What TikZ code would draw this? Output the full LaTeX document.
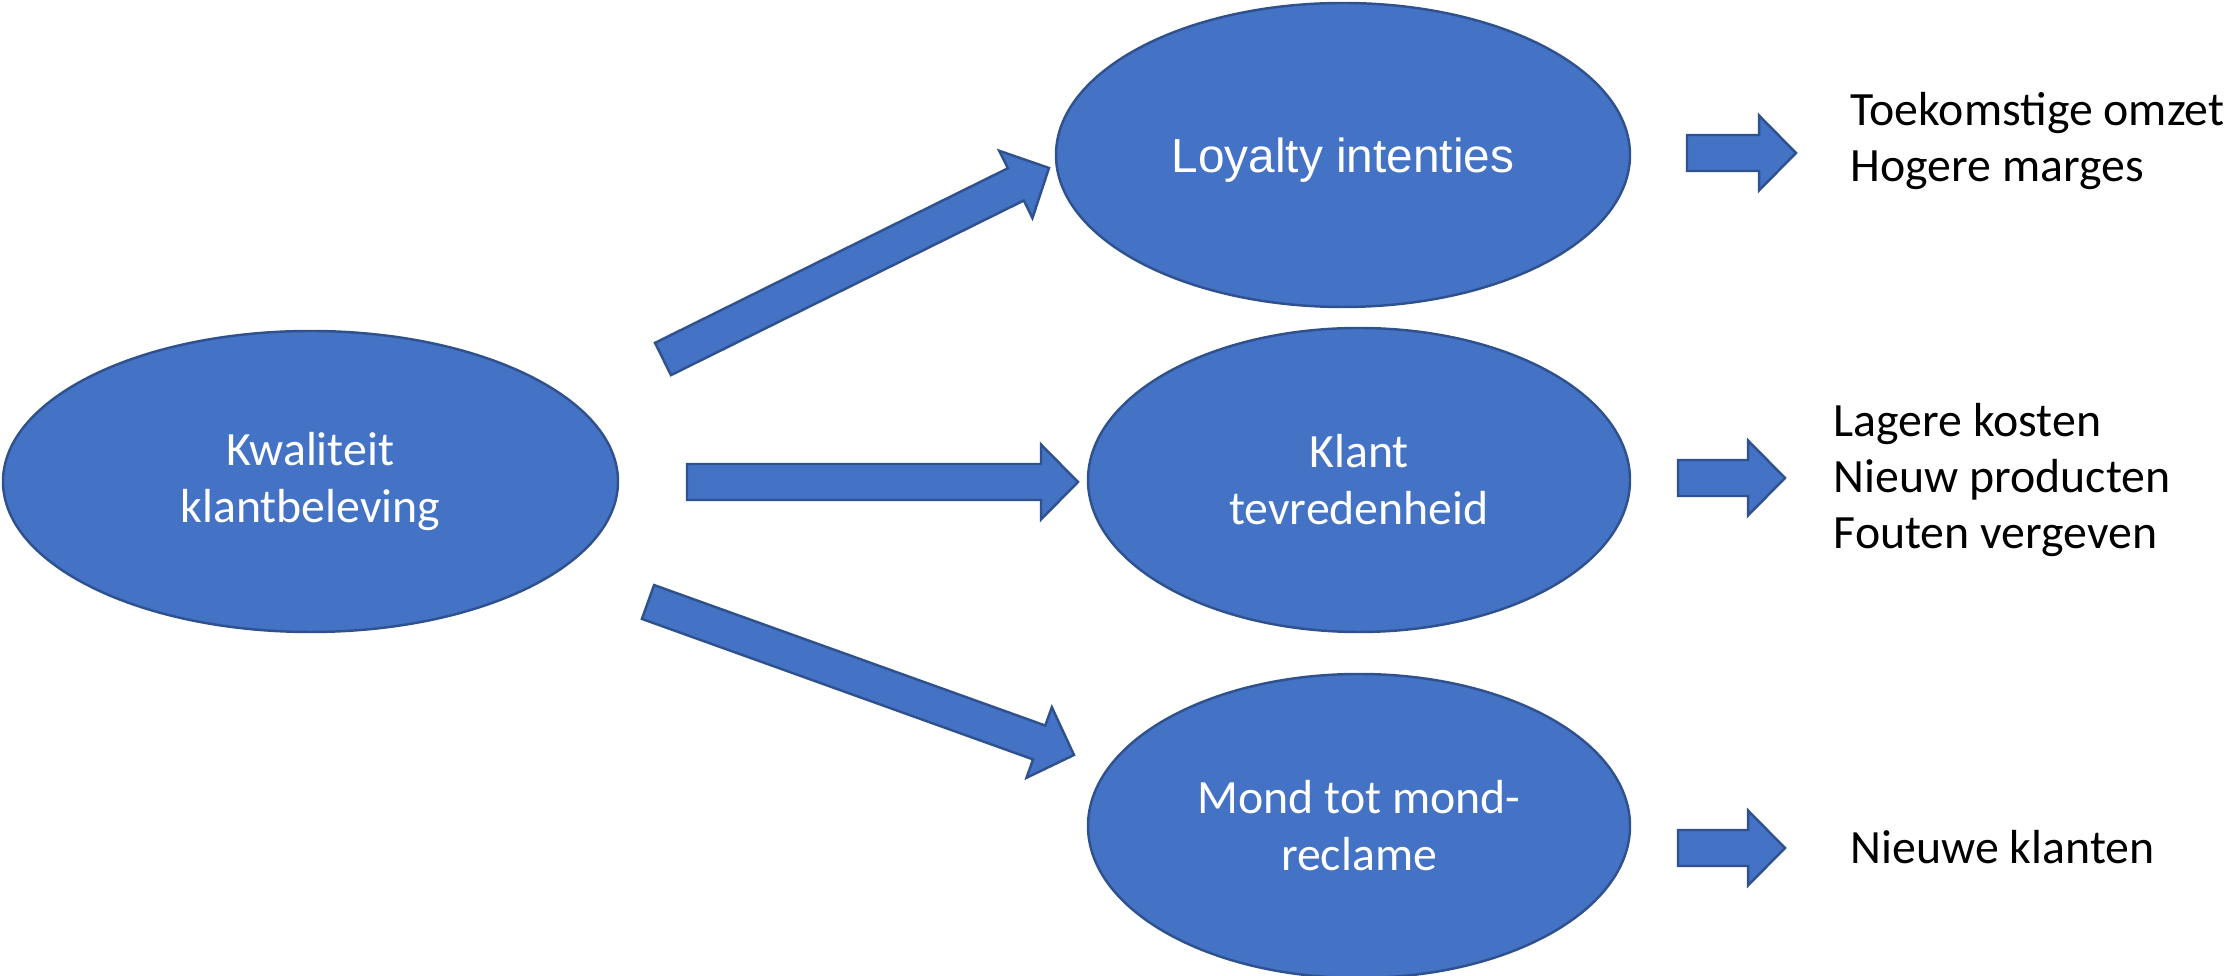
\documentclass[tikz,border=0pt]{standalone}
\usepackage{fontspec}
\setmainfont{Carlito}
\newfontfamily\arialfont{Liberation Sans}
\usetikzlibrary{shapes.geometric,calc}

\definecolor{vulblauw}{HTML}{4472C4}
\definecolor{randblauw}{HTML}{2F528F}

\tikzset{
    bol/.style={ellipse, fill=vulblauw, draw=randblauw, line width=0.7pt,
        text=white, align=center, inner sep=0pt,
        font=\fontsize{13.6}{16.2}\selectfont},
    gevolg/.style={anchor=west, align=left, inner sep=0pt,
        font=\fontsize{13.6}{16}\selectfont},
    pijl/.style={fill=vulblauw, draw=randblauw, line width=0.7pt}
}

% Block arrow from #1 (tail) to #2 (tip)
\newcommand{\blokpijl}[2]{
    \coordinate (#2-b) at ($(#2)!0.37cm!(#1)$);
    \draw[pijl] ($(#1)!0.18cm!90:(#2)$) -- ($(#2-b)!0.18cm!-90:(#1)$)
        -- ($(#2-b)!0.375cm!-90:(#1)$) -- (#2)
        -- ($(#2-b)!0.375cm!90:(#1)$) -- ($(#2-b)!0.18cm!90:(#1)$)
        -- ($(#1)!0.18cm!-90:(#2)$) -- cycle;
}

\begin{document}
\begin{tikzpicture}
    \useasboundingbox (0,0) rectangle (22.28,9.76);

    % Draw ellipses
    \node[bol, minimum width=6.15cm, minimum height=3.01cm] (kwaliteit) at (3.105,4.945) {Kwaliteit\\klantbeleving};
    \node[bol, minimum width=5.74cm, minimum height=3.04cm, text depth=0pt,
        font=\arialfont\fontsize{13.6}{16}\selectfont] (loyalty) at (13.43,8.21) {Loyalty intenties};
    \node[bol, minimum width=5.42cm, minimum height=3.04cm] (tevreden) at (13.59,4.96) {Klant\\tevredenheid};
    \node[bol, minimum width=5.42cm, minimum height=3.04cm] (mond) at (13.59,1.50) {Mond tot mond-\\reclame};

    % Draw results
    \node[gevolg] (omzet) at (18.50,8.35) {Toekomstige omzet\\Hogere marges};
    \node[gevolg] (kosten) at (18.33,4.96) {Lagere kosten\\Nieuw producten\\Fouten vergeven};
    \node[gevolg] (klanten) at (18.50,1.29) {Nieuwe klanten};

    % Arrow ends
    \foreach \naam/\x/\y in {s1/6.63/6.17, e1/10.49/8.08, s2/6.87/4.94, e2/10.78/4.94,
        s3/6.48/3.74, e3/10.74/2.21, s4/16.87/8.23, e4/17.96/8.23,
        s5/16.78/4.98, e5/17.85/4.98, s6/16.78/1.28, e6/17.85/1.28}{
        \coordinate (\naam) at (\x,\y);
    }

    % Draw block arrows
    \foreach \s/\e in {s1/e1, s2/e2, s3/e3, s4/e4, s5/e5, s6/e6}{
        \blokpijl{\s}{\e}
    }
\end{tikzpicture}
\end{document}
